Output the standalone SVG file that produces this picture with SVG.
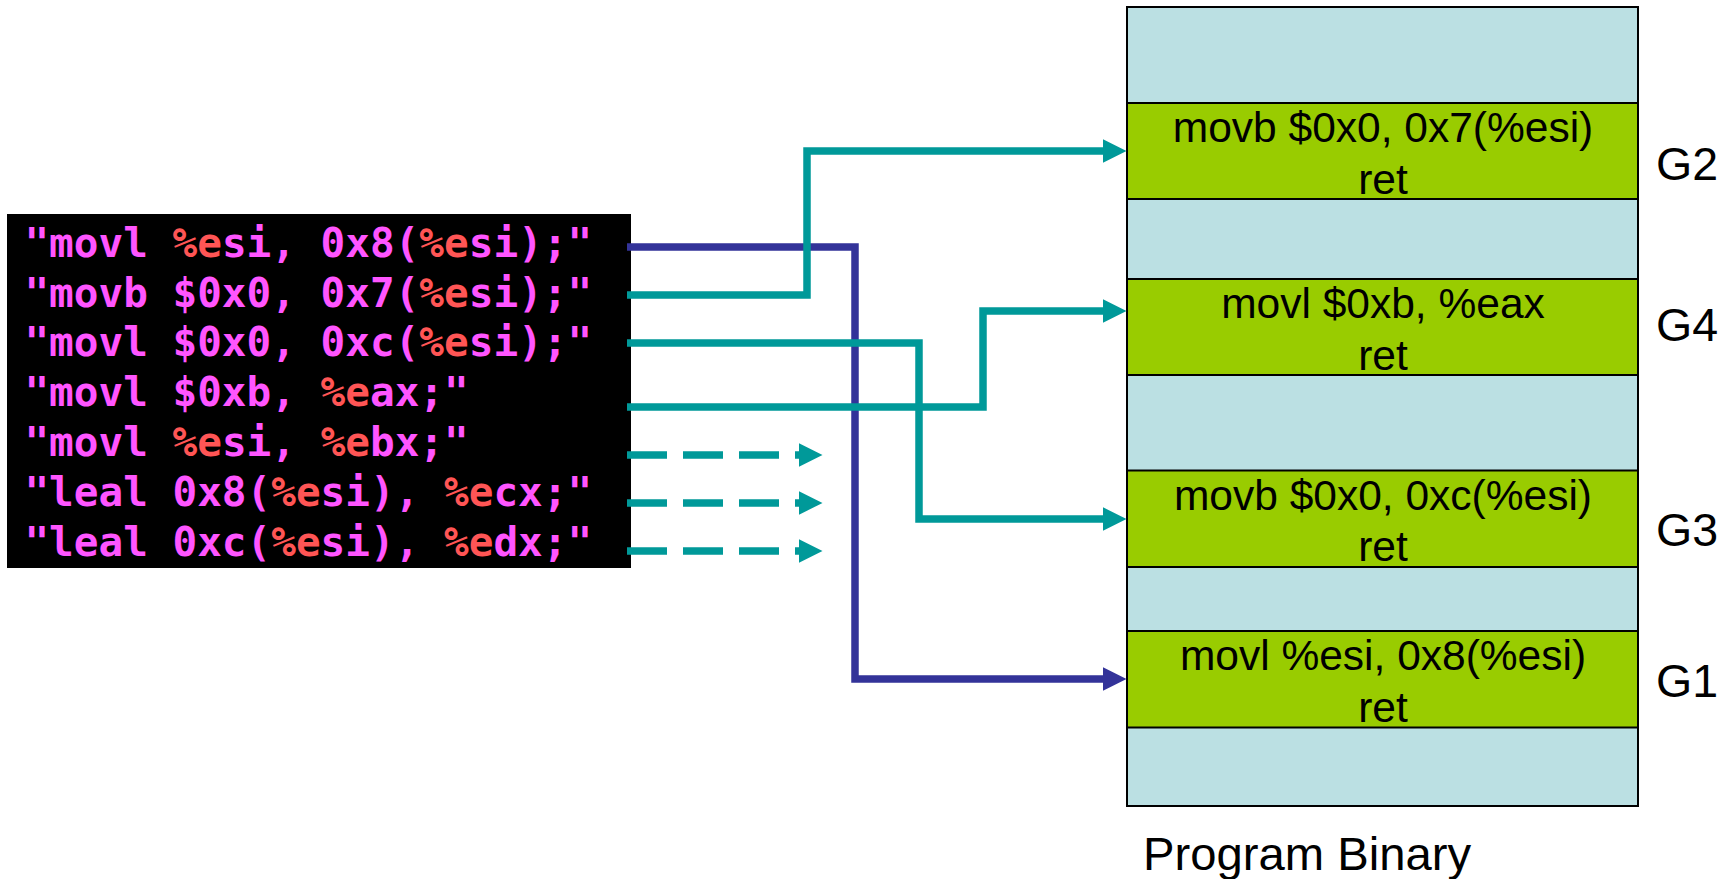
<svg xmlns="http://www.w3.org/2000/svg" width="1736" height="879" viewBox="0 0 1736 879">
  <style>
    .code { font-family: "DejaVu Sans Mono", "Liberation Mono", monospace; font-size: 41px; font-weight: bold; fill: #FF55FF; white-space: pre; }
    .fmt { fill: #FF5555; }
    .slot { fill: #BBE0E3; stroke: #000; stroke-width: 2; }
    .gadget { fill: #99CC00; stroke: #000; stroke-width: 2; }
    .insn { font-family: "Liberation Sans", Arial, sans-serif; font-size: 42.5px; fill: #000; text-anchor: middle; }
    .label { font-family: "Liberation Sans", Arial, sans-serif; font-size: 46.5px; fill: #000; }
    .link { fill: none; stroke-width: 7.5; stroke-linejoin: miter; stroke-linecap: butt; }
    .teal { stroke: #009999; marker-end: url(#headTeal); }
    .blue { stroke: #333399; marker-end: url(#headBlue); }
    .dash { stroke-dasharray: 40 16; }
  </style>
  <defs>
    <marker id="headTeal" markerUnits="userSpaceOnUse" markerWidth="24" markerHeight="24" viewBox="0 0 24 24" refX="2" refY="12" orient="auto">
      <path d="M0,0.3 L23.5,12 L0,23.7 z" fill="#009999"/>
    </marker>
    <marker id="headBlue" markerUnits="userSpaceOnUse" markerWidth="24" markerHeight="24" viewBox="0 0 24 24" refX="2" refY="12" orient="auto">
      <path d="M0,0.3 L23.5,12 L0,23.7 z" fill="#333399"/>
    </marker>
  </defs>

  <rect width="1736" height="879" fill="#fff"/>

  <!-- assembly source listing -->
  <g id="source">
    <rect x="7" y="214" width="624" height="354" fill="#000"/>
    <text class="code" x="24.4" y="256.7">"movl <tspan class="fmt">%e</tspan>si, 0x8(<tspan class="fmt">%e</tspan>si);"</text>
    <text class="code" x="24.4" y="306.5">"movb $0x0, 0x7(<tspan class="fmt">%e</tspan>si);"</text>
    <text class="code" x="24.4" y="356.4">"movl $0x0, 0xc(<tspan class="fmt">%e</tspan>si);"</text>
    <text class="code" x="24.4" y="406.2">"movl $0xb, <tspan class="fmt">%e</tspan>ax;"</text>
    <text class="code" x="24.4" y="456.1">"movl <tspan class="fmt">%e</tspan>si, <tspan class="fmt">%e</tspan>bx;"</text>
    <text class="code" x="24.4" y="505.9">"leal 0x8(<tspan class="fmt">%e</tspan>si), <tspan class="fmt">%e</tspan>cx;"</text>
    <text class="code" x="24.4" y="555.8">"leal 0xc(<tspan class="fmt">%e</tspan>si), <tspan class="fmt">%e</tspan>dx;"</text>
  </g>

  <!-- program binary with gadget slots -->
  <g id="binary">
    <rect class="slot" x="1127" y="7" width="511" height="799"/>
  </g>
  <g id="gadget-g2">
    <rect class="gadget" x="1127" y="103" width="511" height="96"/>
    <text class="insn" x="1383" y="142">movb $0x0, 0x7(%esi)</text>
    <text class="insn" x="1383" y="193.5">ret</text>
    <text class="label" x="1656" y="179.5">G2</text>
  </g>
  <g id="gadget-g4">
    <rect class="gadget" x="1127" y="279" width="511" height="96"/>
    <text class="insn" x="1383" y="318">movl $0xb, %eax</text>
    <text class="insn" x="1383" y="369.5">ret</text>
    <text class="label" x="1656" y="340.5">G4</text>
  </g>
  <g id="gadget-g3">
    <rect class="gadget" x="1127" y="470.5" width="511" height="96.5"/>
    <text class="insn" x="1383" y="509.5">movb $0x0, 0xc(%esi)</text>
    <text class="insn" x="1383" y="561">ret</text>
    <text class="label" x="1656" y="545.5">G3</text>
  </g>
  <g id="gadget-g1">
    <rect class="gadget" x="1127" y="631" width="511" height="96.5"/>
    <text class="insn" x="1383" y="670">movl %esi, 0x8(%esi)</text>
    <text class="insn" x="1383" y="722">ret</text>
    <text class="label" x="1656" y="697">G1</text>
  </g>
  <g id="caption">
    <text class="label" x="1143" y="870" textLength="328" lengthAdjust="spacingAndGlyphs">Program Binary</text>
  </g>

  <!-- instruction-to-gadget links -->
  <g id="connectors">
    <path class="link blue" d="M627,247 H855 V679 H1105"/>
    <path class="link teal" d="M627,295 H807 V151 H1105"/>
    <path class="link teal" d="M627,343 H919 V519 H1105"/>
    <path class="link teal" d="M627,407 H983 V311 H1105"/>
    <path class="link teal dash" d="M627,455 H801"/>
    <path class="link teal dash" d="M627,503 H801"/>
    <path class="link teal dash" d="M627,551 H801"/>
  </g>
</svg>
